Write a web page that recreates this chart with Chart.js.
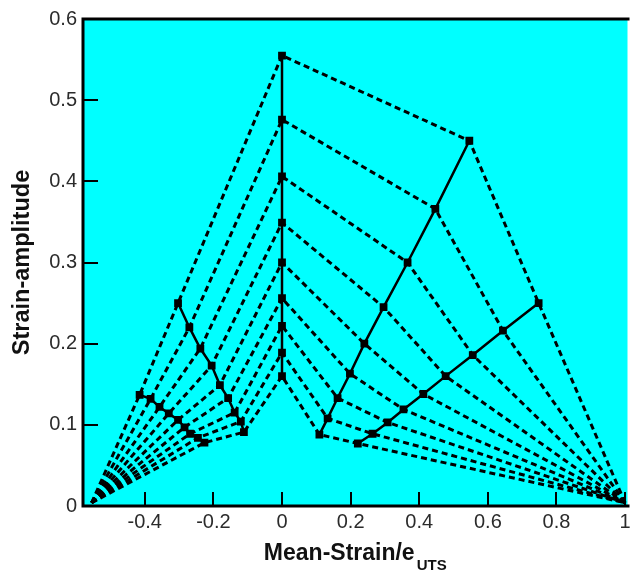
<!DOCTYPE html>
<html>
<head>
<meta charset="utf-8">
<script src="https://cdn.jsdelivr.net/npm/chart.js@4"></script>
<style>
  html, body { margin: 0; padding: 0; background: #fff; }
  #wrap { width: 633px; height: 571px; position: relative; }
</style>
</head>
<body>
<div id="wrap"><canvas id="chart"></canvas></div>
<script>
// points, one entry per curve (outer -> inner)
const centerX = [0, 0, 0, 0, 0, 0, 0, 0, 0];
const centerY = [0.555, 0.476, 0.406, 0.349, 0.300, 0.256, 0.222, 0.189, 0.160];
const rightUpperX = [0.546, 0.447, 0.366, 0.296, 0.240, 0.198, 0.162, 0.133, 0.109];
const rightUpperY = [0.450, 0.366, 0.300, 0.245, 0.200, 0.163, 0.133, 0.108, 0.088];
const rightLowerX = [0.748, 0.644, 0.556, 0.477, 0.412, 0.354, 0.308, 0.264, 0.221];
const rightLowerY = [0.250, 0.216, 0.186, 0.160, 0.138, 0.119, 0.103, 0.089, 0.077];
const leftUpperX = [-0.303, -0.270, -0.238, -0.205, -0.181, -0.157, -0.138, -0.120, -0.111];
const leftUpperY = [0.250, 0.220, 0.194, 0.173, 0.149, 0.133, 0.115, 0.104, 0.091];
const leftLowerX = [-0.415, -0.383, -0.357, -0.330, -0.303, -0.284, -0.268, -0.245, -0.226];
const leftLowerY = [0.137, 0.132, 0.122, 0.114, 0.106, 0.097, 0.089, 0.084, 0.078];
const startX = -0.555, startY = 0.004;   // curves meet here on the left
const endX = 1.0, endY = 0.004;          // and here on the right

const xTicks = [-0.4, -0.2, 0, 0.2, 0.4, 0.6, 0.8, 1];
const yTicks = [0, 0.1, 0.2, 0.3, 0.4, 0.5, 0.6];

function pts(xs, ys) {
    return xs.map((x, i) => ({ x: x, y: ys[i] }));
}

const datasets = [];

// solid branches with square markers (drawn on top, so first)
[[leftLowerX, leftLowerY], [leftUpperX, leftUpperY], [centerX, centerY],
 [rightUpperX, rightUpperY], [rightLowerX, rightLowerY]].forEach(g => {
    datasets.push({
        data: pts(g[0], g[1]),
        showLine: true,
        borderColor: '#000',
        borderWidth: 2.5,
        backgroundColor: '#000',
        pointStyle: 'rect',
        pointRadius: 5.5,
        pointBorderWidth: 0,
        pointHoverRadius: 5.5
    });
});

// dashed curves
for (let i = 0; i < centerY.length; i++) {
    datasets.push({
        data: [
            { x: startX, y: startY },
            { x: leftLowerX[i], y: leftLowerY[i] },
            { x: leftUpperX[i], y: leftUpperY[i] },
            { x: centerX[i], y: centerY[i] },
            { x: rightUpperX[i], y: rightUpperY[i] },
            { x: rightLowerX[i], y: rightLowerY[i] },
            { x: endX, y: endY }
        ],
        showLine: true,
        borderColor: '#000',
        borderWidth: 3,
        borderDash: [6, 4],
        pointRadius: 0,
        pointHoverRadius: 0
    });
}

const FONT = '"Liberation Sans", Arial, sans-serif';

// cyan plot area, frame, inward ticks and the x title with subscript
const framePlugin = {
    id: 'frame',
    beforeDraw(chart) {
        const a = chart.chartArea, ctx = chart.ctx;
        ctx.save();
        ctx.fillStyle = '#00ffff';
        ctx.fillRect(a.left, a.top, a.right - a.left, a.bottom - a.top);
        ctx.restore();
    },
    afterDraw(chart) {
        const a = chart.chartArea, ctx = chart.ctx;
        const xs = chart.scales.x, ys = chart.scales.y;
        ctx.save();
        ctx.strokeStyle = '#000';
        ctx.lineWidth = 2;
        ctx.beginPath();
        xTicks.forEach(v => {
            const px = Math.round(xs.getPixelForValue(v));
            ctx.moveTo(px, a.bottom);
            ctx.lineTo(px, a.bottom - 14);
        });
        yTicks.forEach(v => {
            const py = Math.round(ys.getPixelForValue(v));
            ctx.moveTo(a.left, py);
            ctx.lineTo(a.left + 15, py);
        });
        ctx.stroke();

        ctx.lineWidth = 3;
        ctx.beginPath();
        ctx.moveTo(a.right + 2, a.top);
        ctx.lineTo(a.left, a.top);
        ctx.lineTo(a.left, a.bottom);
        ctx.lineTo(a.right + 2, a.bottom);
        ctx.stroke();

        // x title: Mean-Strain/e with subscript UTS
        const main = 'Mean-Strain/e', sub = 'UTS';
        ctx.fillStyle = '#111';
        ctx.textBaseline = 'alphabetic';
        ctx.font = 'bold 23px ' + FONT;
        const w1 = ctx.measureText(main).width;
        ctx.font = 'bold 15px ' + FONT;
        const w2 = ctx.measureText(sub).width;
        const x0 = (a.left + a.right) / 2 - (w1 + w2 + 2) / 2;
        ctx.font = 'bold 23px ' + FONT;
        ctx.fillText(main, x0, 560);
        ctx.font = 'bold 15px ' + FONT;
        ctx.fillText(sub, x0 + w1 + 2, 570);
        ctx.restore();
    }
};

const tickFont = { family: FONT, size: 20 };

new Chart(document.getElementById('chart'), {
    type: 'scatter',
    data: { datasets: datasets },
    options: {
        responsive: true,
        maintainAspectRatio: false,
        animation: false,
        layout: { padding: { top: 19, right: 0, left: 0, bottom: 0 } },
        plugins: {
            legend: { display: false },
            tooltip: { enabled: false }
        },
        scales: {
            x: {
                type: 'linear',
                min: -0.58,
                max: 1.007,
                afterBuildTicks: axis => { axis.ticks = xTicks.map(v => ({ value: v })); },
                afterFit: s => { s.height = 65; s.paddingLeft = 0; s.paddingRight = 0; },
                grid: { display: false, drawTicks: false },
                border: { display: false },
                ticks: {
                    font: tickFont,
                    color: '#2b2b2b',
                    padding: 4,
                    maxRotation: 0,
                    autoSkip: false,
                    callback: v => String(v)
                }
            },
            y: {
                type: 'linear',
                min: 0,
                max: 0.6,
                afterBuildTicks: axis => { axis.ticks = yTicks.map(v => ({ value: v })); },
                afterFit: s => { s.width = 83; s.paddingTop = 0; s.paddingBottom = 0; },
                grid: { display: false, drawTicks: false },
                border: { display: false },
                ticks: {
                    font: tickFont,
                    color: '#2b2b2b',
                    padding: 6,
                    autoSkip: false,
                    callback: v => String(v)
                },
                title: {
                    display: true,
                    text: 'Strain-amplitude',
                    color: '#111',
                    font: { family: FONT, size: 23.5, weight: 'bold' },
                    padding: { top: 8, bottom: 0 }
                }
            }
        }
    },
    plugins: [framePlugin]
});
</script>
</body>
</html>
